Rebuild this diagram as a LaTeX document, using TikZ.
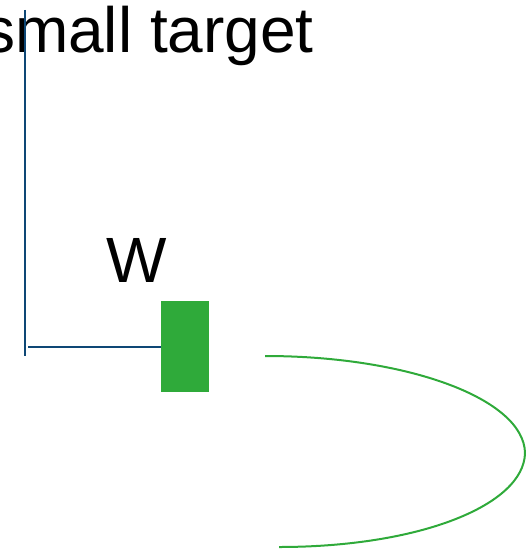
\documentclass[tikz,border=0pt]{standalone}
\usepackage{fontspec}
\setmainfont{Liberation Sans}
\definecolor{lineblue}{HTML}{0E4775}
\definecolor{boxgreen}{HTML}{2FAA3A}
\begin{document}
\begin{tikzpicture}[x=1pt,y=-1pt,
  bigtext/.style={font=\fontsize{64}{70}\selectfont, inner sep=0pt},
  blueline/.style={draw=lineblue, line width=2pt},
  greenbox/.style={fill=boxgreen, draw=none, minimum width=48pt, minimum height=91pt, inner sep=0pt},
  greencurve/.style={draw=boxgreen, line width=2pt}]
\useasboundingbox (0,0) rectangle (525,553);
\node[bigtext, anchor=base east] (title) at (314,53) {small target};
\node[bigtext, anchor=base] (w) at (136.5,282) {W};
\node[greenbox] (box) at (185,346.5) {};
\coordinate (vtop) at (25,10);
\coordinate (vbot) at (25,356);
\coordinate (hleft) at (28,347);
\draw[blueline] (vtop) -- (vbot);
\draw[blueline] (hleft) -- (hleft -| box.west);
\coordinate (ctop) at (265,356);
\coordinate (cright) at (525,453);
\coordinate (cbot) at (279,547);
\draw[greencurve] (ctop) .. controls (408,356) and (524,399) .. (cright)
  .. controls (524,505) and (420,547) .. (cbot);
\end{tikzpicture}
\end{document}
